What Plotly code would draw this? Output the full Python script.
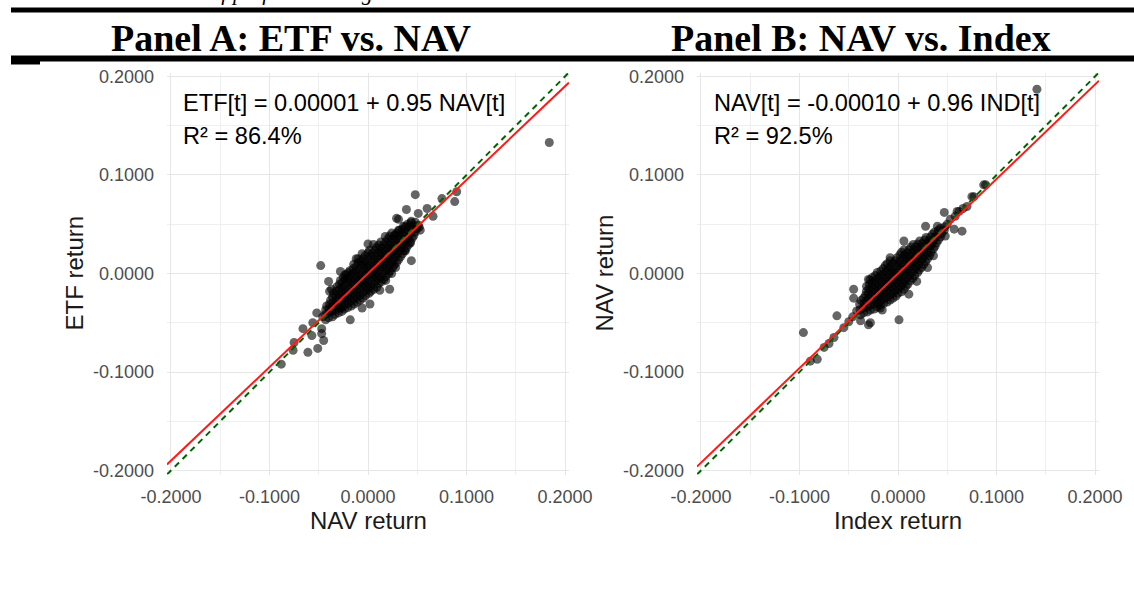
import plotly.graph_objects as go

# ---------------- data ----------------
tick_vals = [-0.2, -0.1, 0.0, 0.1, 0.2]
tick_text = ["-0.2000", "-0.1000", "0.0000", "0.1000", "0.2000"]
minor_vals = [-0.15, -0.05, 0.05, 0.15]

# Panel A: (NAV return, ETF return)
panel_a_points = [
    (-0.043, -0.047), (-0.046, -0.044),
    (-0.036, -0.044), (-0.040, -0.040), (-0.043, -0.037),
    (-0.030, -0.040), (-0.033, -0.037), (-0.036, -0.034), (-0.039, -0.031),
    (-0.024, -0.036), (-0.026, -0.034), (-0.030, -0.031), (-0.032, -0.028), (-0.036, -0.024),
    (-0.017, -0.033), (-0.020, -0.030), (-0.023, -0.027), (-0.026, -0.024), (-0.029, -0.021), (-0.032, -0.018),
    (-0.011, -0.029), (-0.014, -0.026), (-0.017, -0.023), (-0.020, -0.020), (-0.023, -0.017), (-0.026, -0.014), (-0.029, -0.011),
    (-0.005, -0.025), (-0.008, -0.022), (-0.011, -0.019), (-0.014, -0.016), (-0.017, -0.012), (-0.020, -0.009), (-0.023, -0.006), (-0.025, -0.004),
    (0.001, -0.020), (-0.002, -0.017), (-0.005, -0.014), (-0.008, -0.011), (-0.011, -0.008), (-0.014, -0.005), (-0.017, -0.002), (-0.020, 0.001),
    (0.006, -0.016), (0.003, -0.013), (0.000, -0.010), (-0.003, -0.007), (-0.006, -0.004), (-0.009, -0.001), (-0.012, 0.002), (-0.015, 0.005),
    (0.011, -0.010), (0.008, -0.007), (0.005, -0.004), (0.002, -0.001), (-0.001, 0.002), (-0.004, 0.005), (-0.007, 0.008), (-0.010, 0.011),
    (0.016, -0.006), (0.013, -0.003), (0.010, 0.000), (0.007, 0.003), (0.004, 0.006), (0.001, 0.009), (-0.002, 0.012), (-0.005, 0.015),
    (0.021, 0.000), (0.018, 0.003), (0.015, 0.006), (0.012, 0.009), (0.009, 0.012), (0.006, 0.015), (0.003, 0.018), (0.000, 0.021),
    (0.025, 0.006), (0.022, 0.009), (0.019, 0.012), (0.016, 0.015), (0.013, 0.018), (0.010, 0.021), (0.007, 0.024),
    (0.029, 0.011), (0.026, 0.014), (0.023, 0.017), (0.020, 0.020), (0.017, 0.023), (0.014, 0.026), (0.011, 0.029),
    (0.033, 0.017), (0.030, 0.020), (0.027, 0.023), (0.024, 0.026), (0.021, 0.029), (0.018, 0.032),
    (0.037, 0.023), (0.034, 0.026), (0.031, 0.029), (0.028, 0.032), (0.025, 0.035), (0.022, 0.038),
    (0.041, 0.029), (0.038, 0.032), (0.035, 0.035), (0.032, 0.038), (0.029, 0.041),
    (0.045, 0.036), (0.042, 0.039), (0.038, 0.042), (0.035, 0.045),
    (0.048, 0.042), (0.045, 0.045), (0.042, 0.048),
    (0.051, 0.049), (0.048, 0.052),
    (0.040, 0.050), (0.044, 0.053), (0.036, 0.048), (0.032, 0.044), (0.027, 0.039),
    (-0.006, 0.020), (-0.012, 0.015), (-0.022, -0.001), (0.018, -0.007), (0.024, 0.000),
    (0.028, 0.006), (-0.028, -0.035),
    # second layer of the dense core
    (-0.040, -0.045), (-0.0435, -0.0415),
    (-0.0335, -0.0415), (-0.0365, -0.0385), (-0.0395, -0.0355), (-0.042, -0.033),
    (-0.0265, -0.0385), (-0.0295, -0.0355), (-0.0325, -0.0325), (-0.0355, -0.0295), (-0.038, -0.027),
    (-0.0205, -0.0345), (-0.0235, -0.0315), (-0.0265, -0.0285), (-0.0295, -0.0255), (-0.0325, -0.0225), (-0.035, -0.020),
    (-0.014, -0.031), (-0.017, -0.028), (-0.020, -0.025), (-0.023, -0.022), (-0.026, -0.019), (-0.029, -0.016), (-0.0315, -0.0135),
    (-0.008, -0.027), (-0.011, -0.024), (-0.014, -0.021), (-0.017, -0.018), (-0.020, -0.015), (-0.023, -0.012), (-0.026, -0.009), (-0.028, -0.007),
    (-0.0025, -0.0225), (-0.0055, -0.0195), (-0.0085, -0.0165), (-0.0115, -0.0135), (-0.0145, -0.0105), (-0.0175, -0.0075), (-0.0205, -0.0045), (-0.0235, -0.0015),
    (0.003, -0.018), (0.000, -0.015), (-0.003, -0.012), (-0.006, -0.009), (-0.009, -0.006), (-0.012, -0.003), (-0.015, 0.000), (-0.018, 0.003),
    (0.009, -0.014), (0.006, -0.011), (0.003, -0.008), (0.000, -0.005), (-0.003, -0.002), (-0.006, 0.001), (-0.009, 0.004), (-0.012, 0.007), (-0.0145, 0.0095),
    (0.0135, -0.0085), (0.0105, -0.0055), (0.0075, -0.0025), (0.0045, 0.0005), (0.0015, 0.0035), (-0.0015, 0.0065), (-0.0045, 0.0095), (-0.0075, 0.0125), (-0.010, 0.015),
    (0.018, -0.003), (0.015, 0.000), (0.012, 0.003), (0.009, 0.006), (0.006, 0.009), (0.003, 0.012), (0.000, 0.015), (-0.003, 0.018),
    (0.0225, 0.0025), (0.0195, 0.0055), (0.0165, 0.0085), (0.0135, 0.0115), (0.0105, 0.0145), (0.0075, 0.0175), (0.0045, 0.0205), (0.0015, 0.0235),
    (0.0265, 0.0085), (0.0235, 0.0115), (0.0205, 0.0145), (0.0175, 0.0175), (0.0145, 0.0205), (0.0115, 0.0235), (0.0085, 0.0265), (0.0055, 0.0295),
    (0.031, 0.014), (0.028, 0.017), (0.025, 0.020), (0.022, 0.023), (0.019, 0.026), (0.016, 0.029), (0.013, 0.032),
    (0.035, 0.020), (0.032, 0.023), (0.029, 0.026), (0.026, 0.029), (0.023, 0.032), (0.020, 0.035), (0.0175, 0.0375),
    (0.039, 0.026), (0.036, 0.029), (0.033, 0.032), (0.030, 0.035), (0.027, 0.038), (0.024, 0.041),
    (0.043, 0.032), (0.040, 0.035), (0.037, 0.038), (0.034, 0.041), (0.031, 0.044),
    (0.0465, 0.0385), (0.0435, 0.0415), (0.0405, 0.0445), (0.0375, 0.0475),
    (0.0495, 0.0455), (0.0465, 0.0485), (0.0435, 0.0515),
    # scattered points
    (0.184, 0.133), (0.048, 0.080), (0.075, 0.076), (0.090, 0.083), (0.088, 0.073),
    (0.039, 0.065), (0.051, 0.061), (0.066, 0.058), (0.031, 0.055), (0.053, 0.044),
    (0.060, 0.066), (0.052, 0.047), (0.029, 0.056), (0.043, 0.031), (0.038, 0.023),
    (0.044, 0.013), (-0.048, 0.008), (0.000, 0.030), (-0.040, -0.008), (-0.037, -0.016),
    (-0.028, 0.002), (-0.039, -0.018), (-0.006, -0.035), (0.002, -0.031), (0.012, -0.017),
    (0.022, -0.016), (-0.018, -0.047), (-0.052, -0.040), (-0.056, -0.050), (-0.047, -0.056),
    (-0.045, -0.068), (-0.051, -0.076), (-0.061, -0.080), (-0.075, -0.070), (-0.066, -0.056),
    (-0.076, -0.078), (-0.088, -0.092), (-0.047, -0.061), (-0.057, -0.063),
]

# Panel B: (Index return, NAV return)
panel_b_points = [
    (-0.038, -0.042), (-0.042, -0.038),
    (-0.031, -0.039), (-0.035, -0.035), (-0.039, -0.031),
    (-0.024, -0.036), (-0.028, -0.032), (-0.032, -0.028), (-0.035, -0.025),
    (-0.018, -0.032), (-0.020, -0.030), (-0.023, -0.027), (-0.027, -0.023), (-0.030, -0.020), (-0.032, -0.018),
    (-0.011, -0.029), (-0.014, -0.026), (-0.017, -0.023), (-0.020, -0.020), (-0.023, -0.017), (-0.026, -0.014), (-0.029, -0.011),
    (-0.005, -0.025), (-0.008, -0.022), (-0.011, -0.019), (-0.014, -0.016), (-0.017, -0.013), (-0.020, -0.010), (-0.023, -0.007), (-0.026, -0.004),
    (0.000, -0.020), (-0.003, -0.017), (-0.006, -0.014), (-0.009, -0.011), (-0.012, -0.008), (-0.015, -0.005), (-0.018, -0.002), (-0.021, 0.001),
    (0.006, -0.016), (0.003, -0.013), (0.000, -0.010), (-0.003, -0.007), (-0.006, -0.004), (-0.009, -0.001), (-0.012, 0.002), (-0.015, 0.005),
    (0.010, -0.011), (0.007, -0.008), (0.004, -0.005), (0.001, -0.002), (-0.002, 0.001), (-0.005, 0.004), (-0.008, 0.007), (-0.011, 0.010),
    (0.015, -0.005), (0.012, -0.002), (0.009, 0.001), (0.006, 0.004), (0.003, 0.007), (0.000, 0.010), (-0.003, 0.013),
    (0.020, 0.001), (0.017, 0.004), (0.014, 0.007), (0.011, 0.010), (0.008, 0.013), (0.005, 0.016), (0.002, 0.019),
    (0.024, 0.006), (0.021, 0.009), (0.018, 0.012), (0.015, 0.015), (0.012, 0.018), (0.009, 0.021), (0.006, 0.024),
    (0.028, 0.012), (0.025, 0.015), (0.022, 0.018), (0.019, 0.021), (0.016, 0.024), (0.013, 0.027),
    (0.032, 0.018), (0.029, 0.021), (0.026, 0.024), (0.023, 0.027), (0.020, 0.030),
    (0.036, 0.025), (0.033, 0.028), (0.030, 0.031), (0.027, 0.034),
    (0.039, 0.031), (0.036, 0.034), (0.033, 0.037),
    (0.043, 0.037), (0.040, 0.040), (0.037, 0.042),
    (0.047, 0.044), (0.043, 0.046), (0.050, 0.050),
    # second layer of the dense core
    (-0.035, -0.040), (-0.0385, -0.0365),
    (-0.028, -0.037), (-0.031, -0.034), (-0.0345, -0.0305), (-0.0375, -0.0275),
    (-0.021, -0.034), (-0.024, -0.031), (-0.027, -0.028), (-0.030, -0.025), (-0.033, -0.022),
    (-0.0145, -0.0305), (-0.0175, -0.0275), (-0.0205, -0.0245), (-0.0235, -0.0215), (-0.0265, -0.0185), (-0.0295, -0.0155), (-0.032, -0.013),
    (-0.008, -0.027), (-0.011, -0.024), (-0.014, -0.021), (-0.017, -0.018), (-0.020, -0.015), (-0.023, -0.012), (-0.026, -0.009), (-0.0285, -0.0065),
    (-0.002, -0.023), (-0.005, -0.020), (-0.008, -0.017), (-0.011, -0.014), (-0.014, -0.011), (-0.017, -0.008), (-0.020, -0.005), (-0.023, -0.002),
    (0.0035, -0.0185), (0.0005, -0.0155), (-0.0025, -0.0125), (-0.0055, -0.0095), (-0.0085, -0.0065), (-0.0115, -0.0035), (-0.0145, -0.0005), (-0.0175, 0.0025),
    (0.008, -0.013), (0.005, -0.010), (0.002, -0.007), (-0.001, -0.004), (-0.004, -0.001), (-0.007, 0.002), (-0.010, 0.005), (-0.013, 0.008),
    (0.0125, -0.0075), (0.0095, -0.0045), (0.0065, -0.0015), (0.0035, 0.0015), (0.0005, 0.0045), (-0.0025, 0.0075), (-0.0055, 0.0105), (-0.008, 0.013),
    (0.017, -0.002), (0.014, 0.001), (0.011, 0.004), (0.008, 0.007), (0.005, 0.010), (0.002, 0.013), (-0.001, 0.016),
    (0.0215, 0.0035), (0.0185, 0.0065), (0.0155, 0.0095), (0.0125, 0.0125), (0.0095, 0.0155), (0.0065, 0.0185), (0.0035, 0.0215),
    (0.026, 0.009), (0.023, 0.012), (0.020, 0.015), (0.017, 0.018), (0.014, 0.021), (0.011, 0.024),
    (0.030, 0.015), (0.027, 0.018), (0.024, 0.021), (0.021, 0.024), (0.018, 0.027), (0.0155, 0.0295),
    (0.0335, 0.0215), (0.0305, 0.0245), (0.0275, 0.0275), (0.0245, 0.0305), (0.022, 0.033),
    (0.0375, 0.0275), (0.0345, 0.0305), (0.0315, 0.0335), (0.0285, 0.0365),
    (0.041, 0.034), (0.038, 0.037), (0.035, 0.040),
    (0.0445, 0.0405), (0.041, 0.044), (0.0475, 0.0475),
    # scattered points
    (0.141, 0.187), (0.089, 0.090), (0.087, 0.090), (0.077, 0.078), (0.075, 0.078),
    (0.070, 0.068), (0.062, 0.063), (0.060, 0.063), (0.053, 0.055), (0.047, 0.062),
    (0.065, 0.043), (0.057, 0.045), (0.048, 0.038), (0.040, 0.048), (0.028, 0.048),
    (0.006, 0.033), (0.036, 0.018), (0.030, 0.006), (0.019, -0.008), (0.011, -0.021),
    (-0.008, 0.016), (-0.030, -0.006), (-0.045, -0.016), (-0.045, -0.025), (-0.062, -0.043),
    (-0.038, -0.048), (-0.028, -0.050), (-0.018, -0.035), (0.001, -0.047), (-0.096, -0.060),
    (-0.075, -0.075), (-0.089, -0.089), (-0.065, -0.065), (-0.030, -0.052), (-0.016, -0.037),
    (-0.082, -0.087), (-0.055, -0.055), (-0.050, -0.049), (-0.046, -0.044), (-0.070, -0.071),
    (0.058, 0.058), (0.066, 0.066),
]

# regression fits (intercept, slope) as printed on the chart
fit_a = (0.00001, 0.95)
fit_b = (-0.00010, 0.96)
axis_range = [-0.204, 0.204]

# ---------------- figure ----------------
W, H = 1134, 614
def fx(p): return p / W
def fy(p): return 1 - p / H

SANS = "Liberation Sans, Arial, Helvetica, sans-serif"
SERIF = "Liberation Serif, Times New Roman, serif"

fig = go.Figure()

def add_panel(points, fit, xa, ya):
    xs = [p[0] for p in points]
    ys = [p[1] for p in points]
    fig.add_trace(go.Scatter(x=xs, y=ys, mode="markers", xaxis=xa, yaxis=ya,
                             marker=dict(size=9, color="rgba(0,0,0,0.6)", line=dict(width=0)),
                             showlegend=False, hoverinfo="skip"))
    fig.add_trace(go.Scatter(x=axis_range, y=axis_range, mode="lines", xaxis=xa, yaxis=ya,
                             line=dict(color="#006400", width=2, dash="6px,5px"),
                             showlegend=False, hoverinfo="skip"))
    a, b = fit
    fig.add_trace(go.Scatter(x=axis_range, y=[a + b * v for v in axis_range], mode="lines",
                             xaxis=xa, yaxis=ya, line=dict(color="#ff1a1a", width=2),
                             showlegend=False, hoverinfo="skip"))

add_panel(panel_a_points, fit_a, "x", "y")
add_panel(panel_b_points, fit_b, "x2", "y2")

axis_common = dict(
    range=axis_range, tickmode="array", tickvals=tick_vals, ticktext=tick_text,
    showgrid=True, gridcolor="#e6e6e6", gridwidth=1.4,
    minor=dict(tickvals=minor_vals, showgrid=True, gridcolor="#efefef", gridwidth=1),
    zeroline=False, showline=False, ticks="", automargin=False,
    tickfont=dict(family=SANS, size=18, color="#4d4d4d"),
    fixedrange=True,
)
ydom = [fy(474.5), fy(72.5)]
fig.update_layout(
    width=W, height=H, margin=dict(l=0, r=0, t=0, b=0, autoexpand=False),
    paper_bgcolor="white", plot_bgcolor="white",
    xaxis=dict(domain=[fx(167), fx(569)], anchor="y", ticklabelstandoff=9, **axis_common),
    yaxis=dict(domain=ydom, anchor="x", ticklabelstandoff=12, **axis_common),
    xaxis2=dict(domain=[fx(697), fx(1099)], anchor="y2", ticklabelstandoff=9, **axis_common),
    yaxis2=dict(domain=ydom, anchor="x2", ticklabelstandoff=12, **axis_common),
)

shapes = [
    dict(type="rect", xref="paper", yref="paper", x0=fx(11), x1=1, y0=fy(12.5), y1=fy(7.5),
         fillcolor="black", line=dict(width=0)),
    dict(type="rect", xref="paper", yref="paper", x0=fx(11), x1=1, y0=fy(61.5), y1=fy(55.5),
         fillcolor="black", line=dict(width=0)),
    dict(type="rect", xref="paper", yref="paper", x0=fx(11), x1=fx(40), y0=fy(64.5), y1=fy(58),
         fillcolor="black", line=dict(width=0)),
]
fig.update_layout(shapes=shapes)

ann = []
# cut-off caption at the very top
ann.append(dict(text="<i>dashed line is the line of perfect tracking.</i>", xref="paper", yref="paper",
                x=fx(11), y=1, xanchor="left", yanchor="bottom", yshift=-7, showarrow=False,
                font=dict(family=SERIF, size=22, color="black")))
# panel headers
ann.append(dict(text="<b>Panel A: ETF vs. NAV</b>", xref="paper", yref="paper", x=fx(291), y=fy(38),
                xanchor="center", yanchor="middle", showarrow=False,
                font=dict(family=SERIF, size=38, color="black")))
ann.append(dict(text="<b>Panel B: NAV vs. Index</b>", xref="paper", yref="paper", x=fx(861), y=fy(38),
                xanchor="center", yanchor="middle", showarrow=False,
                font=dict(family=SERIF, size=38, color="black")))
# axis titles
title_font = dict(family=SANS, size=24, color="#1a1a1a")
ann.append(dict(text="NAV return", xref="paper", yref="paper", x=fx(368), y=fy(520),
                xanchor="center", yanchor="middle", showarrow=False, font=title_font))
ann.append(dict(text="Index return", xref="paper", yref="paper", x=fx(898), y=fy(520),
                xanchor="center", yanchor="middle", showarrow=False, font=title_font))
ann.append(dict(text="ETF return", xref="paper", yref="paper", x=fx(74), y=fy(273.5),
                xanchor="center", yanchor="middle", textangle=-90, showarrow=False, font=title_font))
ann.append(dict(text="NAV return", xref="paper", yref="paper", x=fx(604), y=fy(273.5),
                xanchor="center", yanchor="middle", textangle=-90, showarrow=False, font=title_font))
# equations
eq_font = dict(family=SANS, size=23.6, color="black")
ann.append(dict(text="ETF[t] = 0.00001 + 0.95 NAV[t]", xref="paper", yref="paper", x=fx(181), y=fy(103),
                xanchor="left", yanchor="middle", showarrow=False, font=eq_font))
ann.append(dict(text="R² = 86.4%", xref="paper", yref="paper", x=fx(181), y=fy(136),
                xanchor="left", yanchor="middle", showarrow=False, font=eq_font))
ann.append(dict(text="NAV[t] = -0.00010 + 0.96 IND[t]", xref="paper", yref="paper", x=fx(712), y=fy(103),
                xanchor="left", yanchor="middle", showarrow=False, font=eq_font))
ann.append(dict(text="R² = 92.5%", xref="paper", yref="paper", x=fx(712), y=fy(136),
                xanchor="left", yanchor="middle", showarrow=False, font=eq_font))
fig.update_layout(annotations=ann)

fig.write_html("out.html", config={"displayModeBar": False},
               post_script="document.body.style.margin='0px';")
